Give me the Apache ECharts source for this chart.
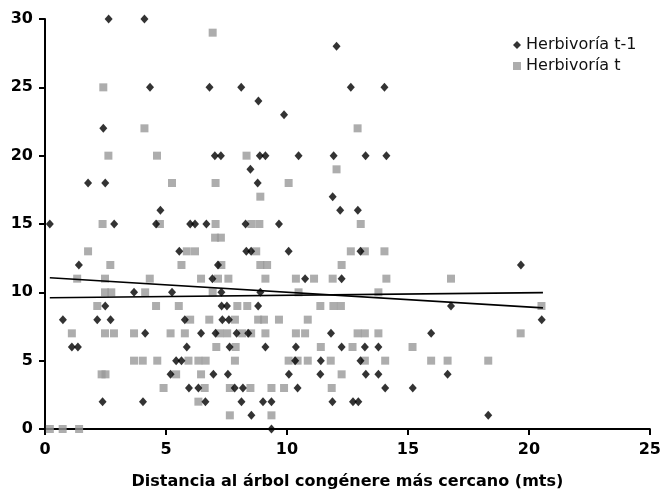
<!DOCTYPE html>
<html>
<head>
<meta charset="utf-8">
<script src="https://cdn.jsdelivr.net/npm/echarts@6/dist/echarts.min.js"></script>
<style>html,body{margin:0;padding:0;background:#fff}#c{width:664px;height:495px}</style>
</head>
<body>
<div id="c"></div>
<script>
// Herbivoría t-1 (black diamonds): [distance, herbivory]
const herbT1 = [
  [2.63,30],[4.11,30],
  [12.05,28],
  [4.34,25],[6.8,25],[8.11,25],[12.64,25],[14.03,25],
  [8.82,24],
  [9.88,23],
  [2.41,22],
  [7.02,20],[7.27,20],[8.88,20],[9.11,20],[10.48,20],[11.93,20],[13.25,20],[14.11,20],
  [8.49,19],
  [1.78,18],[2.49,18],[8.79,18],
  [11.89,17],
  [4.77,16],[12.2,16],[12.93,16],
  [0.2,15],[2.86,15],[4.59,15],[6.0,15],[6.2,15],[6.67,15],[8.29,15],[9.67,15],
  [5.55,13],[8.32,13],[8.52,13],[10.07,13],[13.04,13],
  [1.4,12],[7.15,12],[19.67,12],
  [6.92,11],[10.75,11],[12.26,11],
  [3.68,10],[5.25,10],[7.29,10],[8.9,10],
  [2.49,9],[7.3,9],[7.52,9],[8.81,9],[16.78,9],
  [0.74,8],[2.16,8],[2.71,8],[5.78,8],[7.33,8],[7.6,8],[20.53,8],
  [4.14,7],[6.45,7],[7.05,7],[7.92,7],[8.4,7],[11.82,7],[15.96,7],
  [1.11,6],[1.36,6],[5.86,6],[7.63,6],[9.11,6],[10.37,6],[12.26,6],[13.22,6],[13.78,6],
  [5.42,5],[5.64,5],[10.34,5],[11.4,5],[13.04,5],
  [5.19,4],[6.96,4],[7.56,4],[10.08,4],[11.38,4],[13.26,4],[13.78,4],[16.64,4],
  [5.95,3],[6.34,3],[7.84,3],[8.18,3],[10.44,3],[14.06,3],[15.2,3],
  [2.38,2],[4.05,2],[6.63,2],[8.12,2],[9.01,2],[9.36,2],[11.88,2],[12.73,2],[12.95,2],
  [8.53,1],[18.32,1],
  [9.36,0]
];
// Herbivoría t (grey squares)
const herbT = [
  [6.93,29],
  [2.41,25],
  [4.11,22],[12.92,22],
  [2.62,20],[4.63,20],[8.33,20],
  [12.05,19],
  [5.25,18],[7.05,18],[10.07,18],
  [8.9,17],
  [2.38,15],[4.75,15],[7.05,15],[8.53,15],[8.86,15],[13.05,15],
  [7.03,14],[7.27,14],
  [1.78,13],[5.86,13],[6.2,13],[8.73,13],[12.64,13],[13.22,13],[14.03,13],
  [2.7,12],[5.64,12],[7.29,12],[8.9,12],[9.18,12],[12.26,12],
  [1.33,11],[2.48,11],[4.33,11],[6.45,11],[7.15,11],[7.58,11],[9.11,11],[10.37,11],[11.12,11],[11.89,11],[14.11,11],[16.78,11],
  [2.48,10],[2.74,10],[4.14,10],[6.93,10],[10.48,10],[13.78,10],
  [2.16,9],[4.59,9],[5.53,9],[7.95,9],[8.36,9],[11.38,9],[11.92,9],[12.23,9],[20.52,9],
  [6.0,8],[6.79,8],[7.85,8],[8.81,8],[9.05,8],[9.67,8],[10.86,8],
  [1.11,7],[2.48,7],[2.85,7],[3.68,7],[5.19,7],[5.78,7],[7.22,7],[7.53,7],[8.15,7],[8.52,7],[9.11,7],[10.37,7],[10.75,7],[12.92,7],[13.22,7],[13.78,7],[19.66,7],
  [7.08,6],[7.88,6],[11.4,6],[12.71,6],[15.19,6],
  [3.68,5],[4.04,5],[4.64,5],[5.93,5],[6.34,5],[6.64,5],[7.85,5],[10.07,5],[10.44,5],[10.86,5],[11.81,5],[13.22,5],[14.06,5],[15.96,5],[16.64,5],[18.32,5],
  [2.34,4],[2.5,4],[5.42,4],[6.45,4],[12.26,4],
  [4.9,3],[6.6,3],[7.64,3],[8.49,3],[9.36,3],[9.88,3],[11.85,3],
  [6.34,2],
  [7.64,1],[9.36,1],
  [0.2,0],[0.73,0],[1.41,0]
];
// Trend lines (endpoints)
const trendA = [[0.2,11.07],[20.58,8.86]];
const trendB = [[0.2,9.6],[20.58,9.98]];
const xTitle = 'Distancia al árbol congénere más cercano (mts)';
const seriesNames = ['Herbivoría t-1','Herbivoría t'];

const font = 'DejaVu Sans, Verdana, sans-serif';
const chart = echarts.init(document.getElementById('c'), null, {renderer:'canvas'});
chart.setOption({
  animation:false,
  backgroundColor:'#fff',
  grid:{left:45,right:11,top:19,bottom:62,containLabel:false},
  legend:{
    data:[{name:seriesNames[0],icon:'diamond'},{name:seriesNames[1],icon:'rect'}],
    orient:'vertical', left:508, top:32, itemWidth:8, itemHeight:8, itemGap:5,
    textStyle:{fontFamily:font,fontSize:16,color:'#111',padding:[0,0,0,0]}
  },
  xAxis:{
    type:'value',min:0,max:25,interval:5,
    name:xTitle,nameLocation:'middle',nameGap:45,
    nameTextStyle:{fontFamily:font,fontSize:16,fontWeight:'bold',color:'#000'},
    axisLine:{show:true,onZero:false,lineStyle:{color:'#000',width:2}},
    axisTick:{show:true,length:6,lineStyle:{color:'#000',width:2}},
    axisLabel:{fontFamily:font,fontSize:16,fontWeight:'bold',color:'#000',margin:13},
    splitLine:{show:false}
  },
  yAxis:{
    type:'value',min:0,max:30,interval:5,
    axisLine:{show:true,onZero:false,lineStyle:{color:'#000',width:2}},
    axisTick:{show:true,length:6,lineStyle:{color:'#000',width:2}},
    axisLabel:{fontFamily:font,fontSize:16,fontWeight:'bold',color:'#000',margin:12},
    splitLine:{show:false}
  },
  series:[
    {name:seriesNames[1],type:'scatter',symbol:'rect',symbolSize:[8,8],data:herbT,
     itemStyle:{color:'#999999'},z:2},
    {name:seriesNames[0],type:'scatter',symbol:'diamond',symbolSize:[8,9],data:herbT1,
     itemStyle:{color:'#000'},z:3},
    {type:'line',data:trendA,symbol:'none',lineStyle:{color:'#000',width:1.6},z:4,silent:true},
    {type:'line',data:trendB,symbol:'none',lineStyle:{color:'#000',width:1.6},z:4,silent:true}
  ]
});
</script>
</body>
</html>
